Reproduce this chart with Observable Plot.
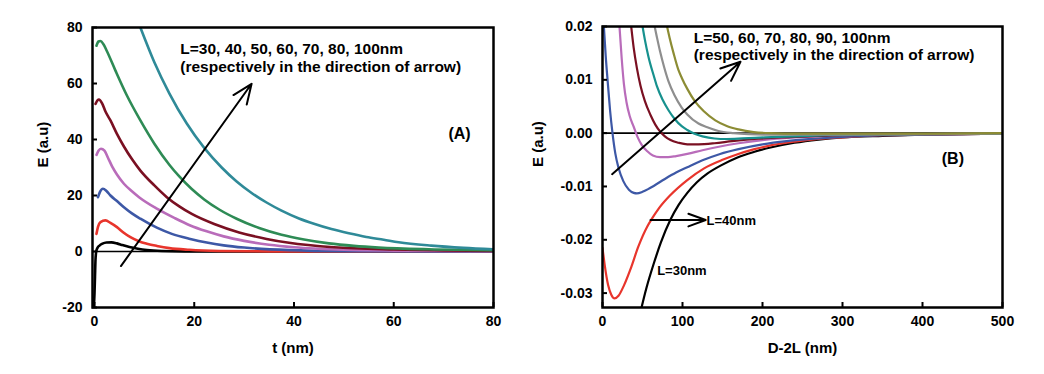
<!DOCTYPE html>
<html><head><meta charset="utf-8">
<script src="https://cdn.jsdelivr.net/npm/d3@7"></script>
<script src="https://cdn.jsdelivr.net/npm/@observablehq/plot@0.6"></script>
<style>
body{margin:0;background:#fff;}
#wrap{display:flex;width:1044px;height:374px;background:#fff;}
</style></head><body><div id="wrap"></div>
<script>
// ---------- Panel A data: t (nm) vs E (a.u) ----------
const A_L30 = [[-0.2,-21],[0,-15],[0.1,-9],[0.2,-3],[0.35,0],[0.6,1.3],[1,2.1],[1.6,2.8],[2.4,3.2],[3.4,3.25],[4.5,2.9],[5.6,2.3],[7,1.6],[8.7,1.0],[10.5,0.55],[13.5,0.2],[18,0.05],[30,0],[80,0]];
const A_L40 = [[0.4,6.3],[0.7,8.8],[1.2,10.5],[2.2,11.1],[3.2,10.2],[4.5,8.7],[5.8,6.8],[7.2,5.1],[9,3.6],[10.5,2.8],[12.5,2.0],[15,1.2],[19,0.6],[25,0.2],[35,0.05],[80,0]];
const A_L50 = [[0.7,19.4],[1.1,21.3],[1.7,22.4],[2.4,21.6],[3.2,20],[4.5,18],[5.9,15.8],[7.5,13.6],[9.2,11.7],[12.5,8.5],[15.5,6.3],[19.2,4.5],[22.5,3.2],[25.9,2.2],[30,1.4],[39,0.5],[50,0.15],[80,0]];
const A_L60 = [[0.4,34.5],[0.8,36],[1.3,36.7],[2,36],[2.7,33.5],[3.5,30.5],[4.5,27.5],[5.9,24.2],[7.5,21.5],[9,19.3],[12.5,15.3],[16,12],[19.2,9.3],[22.5,7.2],[25.9,5.4],[30,3.8],[35,2.4],[40,1.5],[50,0.6],[60,0.3],[80,0.1]];
const A_L70 = [[0.2,52.7],[0.6,54],[0.9,54.3],[1.5,53],[2.2,50],[3.2,46.8],[4.5,42],[5.9,37.5],[7.5,33],[9.2,28.9],[12,23.6],[14.5,19.4],[17,16.1],[19.5,13.4],[24,9.8],[29,6.8],[34.5,4.5],[39,3.1],[48,1.5],[60,0.7],[70,0.4],[80,0.2]];
const A_L80 = [[0.4,73.5],[0.8,75],[1.2,75.2],[1.8,74],[2.5,71.5],[4.2,64.6],[6.5,55.7],[9.2,46.8],[12,38.5],[15,31],[17,26.8],[19.5,22.3],[22,18.6],[25,15],[28.5,11.7],[33,8.4],[37.5,6],[42,4.3],[47,2.9],[52,2],[57,1.4],[67,0.8],[80,0.5]];
const A_L100 = [[9.2,80],[12,67.6],[15,56.5],[18.5,45.7],[22,37],[25.5,30],[28.5,25],[31.5,20.9],[34.5,17.5],[37.5,14.6],[41,11.8],[44,9.9],[47.5,8],[51,6.5],[54.5,5.2],[58,4.2],[61,3.3],[67.5,2.1],[74,1.3],[80,0.8]];
const A_series = [A_L30, A_L40, A_L50, A_L60, A_L70, A_L80, A_L100];
const A_colors = ["#000000","#e8352c","#3d58a6","#b96cba","#7a1022","#2e8b55","#2f8a98"];
const A_xTicks = [0,20,40,60,80];
const A_yTicks = [-20,0,20,40,60,80];
const A_arrow = {x1:5.3, y1:-5.2, x2:31.5, y2:59.9};
const A_note = [{x:17.2, y:72.4, text:"L=30, 40, 50, 60, 70, 80, 100nm"},{x:17.2, y:66.0, text:"(respectively in the direction of arrow)"}];
const A_tag = [{x:73.2, y:42, text:"(A)"}];

// ---------- Panel B data: D-2L (nm) vs E (a.u) ----------
const B_L30 = [[47.5,-0.0335],[55,-0.0290],[64,-0.0245],[73,-0.0205],[85,-0.0162],[95,-0.0135],[106,-0.0112],[118,-0.0092],[131,-0.0076],[150,-0.0059],[168,-0.0046],[190,-0.0035],[210,-0.0027],[240,-0.0018],[270,-0.0012],[300,-0.0008],[350,-0.0005],[400,-0.0003],[450,-0.0002],[500,-0.0001]];
const B_L40 = [[0,-0.0215],[3,-0.025],[7,-0.0285],[11,-0.0303],[15,-0.031],[20,-0.0305],[27,-0.0285],[35,-0.0255],[45,-0.0212],[56,-0.0175],[62,-0.0160],[70,-0.0142],[85,-0.0116],[106,-0.0088],[127,-0.0066],[150,-0.0050],[168,-0.0040],[190,-0.0030],[210,-0.0023],[240,-0.0016],[270,-0.0011],[300,-0.0008],[350,-0.0004],[400,-0.0003],[500,-0.0001]];
const B_L50 = [[1.5,0.0205],[4,0.0145],[6.7,0.0093],[9.5,0.0042],[12.5,0.0],[16,-0.0038],[20,-0.0065],[26,-0.0090],[33,-0.0106],[39,-0.0112],[43,-0.0113],[50,-0.0110],[57,-0.0105],[64,-0.0099],[78,-0.0086],[92,-0.0074],[106,-0.0064],[125,-0.0051],[147,-0.0039],[170,-0.0030],[200,-0.0021],[230,-0.0015],[260,-0.0011],[300,-0.0007],[350,-0.0004],[400,-0.0003],[500,-0.0001]];
const B_L60 = [[21,0.0205],[24,0.014],[26.7,0.0093],[30,0.0058],[34,0.0032],[39,0.0012],[44,-0.0008],[49,-0.0022],[56,-0.0034],[63,-0.0042],[72,-0.0045],[82,-0.0045],[92,-0.0043],[106,-0.0039],[125,-0.0032],[147,-0.0025],[170,-0.0019],[200,-0.0013],[240,-0.0008],[280,-0.0005],[330,-0.0003],[400,-0.0002],[500,-0.0001]];
const B_L70 = [[35.5,0.0205],[39,0.016],[43,0.0122],[47.5,0.0089],[53,0.0060],[60,0.0034],[66,0.0016],[72.5,0.0002],[78,-0.0006],[85,-0.0013],[95,-0.0018],[106,-0.0021],[120,-0.0021],[140,-0.0019],[162,-0.0015],[190,-0.0011],[224,-0.0008],[260,-0.0006],[300,-0.0004],[350,-0.0003],[400,-0.0002],[500,-0.0001]];
const B_L80 = [[49.5,0.0205],[53,0.0175],[57.5,0.0143],[64,0.0108],[68,0.0088],[75,0.0063],[82.5,0.0043],[90,0.0027],[99,0.0013],[106,0.0006],[115,-0.0001],[125,-0.0006],[140,-0.0010],[155,-0.0011],[175,-0.0010],[203,-0.0008],[240,-0.0006],[280,-0.0004],[330,-0.0003],[400,-0.0002],[500,-0.0001]];
const B_L90 = [[64.5,0.0205],[68,0.018],[72,0.0153],[77,0.0124],[82.5,0.0097],[90,0.0071],[99,0.0048],[106,0.0035],[120,0.0018],[131,0.0011],[145,0.0004],[164,0.0000],[182,-0.0002],[210,-0.0003],[250,-0.0003],[300,-0.0003],[400,-0.0002],[500,-0.0001]];
const B_L100 = [[80,0.0205],[84,0.0178],[88.8,0.015],[95,0.0118],[99,0.0104],[106,0.0083],[115.8,0.0059],[126.7,0.0041],[141,0.0024],[156,0.0013],[170,0.0007],[189,0.0002],[210,0],[245,-0.0001],[300,-0.0001],[400,-0.0001],[500,0]];
const B_series = [B_L30, B_L40, B_L50, B_L60, B_L70, B_L80, B_L90, B_L100];
const B_colors = ["#000000","#e8352c","#3d58a6","#b96cba","#7a1022","#17918e","#8e8e8e","#8c8c34"];
const B_xTicks = [0,100,200,300,400,500];
const B_yTicks = [-0.03,-0.02,-0.01,0,0.01,0.02];
const B_arrow = {x1:12, y1:-0.0077, x2:172.5, y2:0.0134};
const B_arrow40 = {x1:60, y1:-0.0163, x2:129, y2:-0.0163};
const B_note = [{x:114, y:0.01785, text:"L=50, 60, 70, 80, 90, 100nm"},{x:114, y:0.01460, text:"(respectively in the direction of arrow)"}];
const B_small = [{x:130, y:-0.0165, text:"L=40nm"},{x:68.3, y:-0.0259, text:"L=30nm"}];
const B_tag = [{x:438, y:-0.0048, text:"(B)"}];

const FONT = "'Liberation Sans', Arial, Helvetica, sans-serif";

function panel(cfg) {
  const fw = cfg.width - cfg.ml - cfg.mr;
  const fh = cfg.height - cfg.mt - cfg.mb;
  const marks = [
    Plot.ruleY([0], {stroke:"black", strokeWidth:1.6}),
    ...cfg.series.map((s, i) => Plot.line(s, {x: d => d[0], y: d => d[1], stroke: cfg.colors[i], strokeWidth: cfg.lw, curve: "monotone-x", clip: true})),
    ...cfg.arrows.map(a => Plot.arrow([a.d], {x1:"x1", y1:"y1", x2:"x2", y2:"y2", stroke:"black", strokeWidth:2, headLength:a.hl, headAngle:a.ha})),
    Plot.text(cfg.notes, {x:"x", y:"y", text:"text", textAnchor:"start", fontSize:15.5, fontWeight:"bold", fill:"black"}),
    Plot.text(cfg.small || [], {x:"x", y:"y", text:"text", textAnchor:"start", fontSize:13, fontWeight:"bold", fill:"black"}),
    Plot.text(cfg.tag, {x:"x", y:"y", text:"text", fontSize:16, fontWeight:"bold", fill:"black"}),
    Plot.tickX(cfg.xTicks, {x: d => d, insetTop: fh - 5, stroke:"black", strokeWidth:2}),
    Plot.tickY(cfg.yTicks, {y: d => d, insetRight: fw - 5, stroke:"black", strokeWidth:2}),
    Plot.frame({stroke:"black", strokeWidth:2.5}),
    Plot.text([cfg.yLabel], {frameAnchor:"left", dx: cfg.yLabelDx, rotate:-90, text: d => d, fontSize:15, fontWeight:"bold", fill:"black"}),
    Plot.text([cfg.xLabel], {frameAnchor:"bottom", dy: 45, text: d => d, fontSize:15, fontWeight:"bold", fill:"black"})
  ];
  return Plot.plot({
    width: cfg.width, height: cfg.height,
    marginLeft: cfg.ml, marginRight: cfg.mr, marginTop: cfg.mt, marginBottom: cfg.mb,
    style: {fontFamily: FONT, fontWeight: "bold", fontSize: "14px", color: "black", background: "white"},
    x: {domain: cfg.xDomain, ticks: cfg.xTicks, tickSize: 0, tickPadding: 9, tickFormat: cfg.xFmt, label: null},
    y: {domain: cfg.yDomain, ticks: cfg.yTicks, tickSize: 0, tickPadding: 10, tickFormat: cfg.yFmt, label: null},
    marks
  });
}

const wrap = document.getElementById("wrap");
wrap.appendChild(panel({
  width: 522, height: 374, ml: 92, mr: 29, mt: 27, mb: 67, lw: 2.6,
  series: A_series, colors: A_colors,
  xDomain: [-0.4, 80], yDomain: [-20, 80], xTicks: A_xTicks, yTicks: A_yTicks,
  xFmt: d => String(d), yFmt: d => String(d),
  arrows: [{d: A_arrow, hl: 16, ha: 45}],
  notes: A_note, tag: A_tag,
  yLabel: "E (a.u)", yLabelDx: -49, xLabel: "t (nm)"
}));
wrap.appendChild(panel({
  width: 522, height: 374, ml: 80, mr: 42, mt: 26, mb: 67, lw: 2.2,
  series: B_series, colors: B_colors,
  xDomain: [0, 500], yDomain: [-0.0327, 0.02], xTicks: B_xTicks, yTicks: B_yTicks,
  xFmt: d => String(d), yFmt: d => (Math.abs(d) < 1e-9 ? "0.00" : d.toFixed(2)),
  arrows: [{d: B_arrow, hl: 16, ha: 45}, {d: B_arrow40, hl: 14, ha: 40}],
  notes: B_note, small: B_small, tag: B_tag,
  yLabel: "E (a.u)", yLabelDx: -64, xLabel: "D-2L (nm)"
}));
</script>
</body></html>
